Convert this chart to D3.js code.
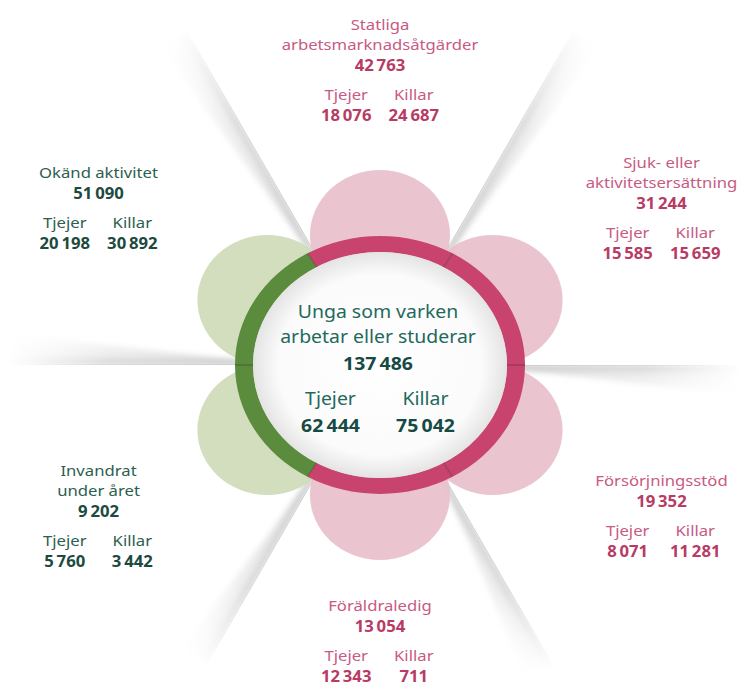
<!DOCTYPE html>
<meta charset="utf-8">
<script src="https://d3js.org/d3.v7.min.js"></script>
<style>
  body { margin: 0; background: #fff; }
  text { font-family: "Noto Sans", "Open Sans", sans-serif; }
</style>
<body>
<div id="chart"></div>
<script>

// categories, clockwise from the top petal
var categories = [
    ["Statliga", "arbetsmarknadsåtgärder"],
    ["Sjuk- eller", "aktivitetsersättning"],
    ["Försörjningsstöd"],
    ["Föräldraledig"],
    ["Invandrat", "under året"],
    ["Okänd aktivitet"]
];
var totals = [42763, 31244, 19352, 13054, 9202, 51090];
var tjejer = [18076, 15585, 8071, 12343, 5760, 20198];
var killar = [24687, 15659, 11281, 711, 3442, 30892];
var groups = ["pink", "pink", "pink", "pink", "green", "green"];

var centerTitle = ["Unga som varken", "arbetar eller studerar"];
var centerTotal = [137486];
var centerTjejer = [62444];
var centerKillar = [75042];
var genderLabels = ["Tjejer", "Killar"];

// which side of each fold gets the shadow (fold after category i)
var foldSide = [1, 1, 1, 1, 1, -1];

var W = 749, H = 690;
var cx = 380, cy = 365;

var palette = {
    pink: { petal: "#e8c0ca", ring: "#c8436d", title: "#c85a83", num: "#b83b65" },
    green: { petal: "#cfdbb8", ring: "#5b8b3d", title: "#2d5e4f", num: "#1d4a3e" }
};

var svg = d3.select("#chart").append("svg")
    .attr("width", W)
    .attr("height", H);
var defs = svg.append("defs");

var fmt = d3.formatLocale({ decimal: ",", thousands: "\u2009", grouping: [3], currency: ["", ""] }).format(",d");

var n = categories.length;
var angle = d3.scaleLinear().domain([0, n]).range([Math.PI / 2, Math.PI / 2 - 2 * Math.PI]);

// unit circle -> screen, for petals and labels
var petalX = d3.scaleLinear().domain([-1, 1]).range([cx - 130, cx + 130]);
var petalY = d3.scaleLinear().domain([-1, 1]).range([cy + 130, cy - 130]);
var labelX = d3.scaleLinear().domain([-1, 1]).range([cx - 325, cx + 325]);
// label block centres: bottom, lower sides, upper sides, top
var labelY = d3.scaleLinear().domain([-1, -0.5, 0.5, 1]).range([cy + 276, cy + 151, cy - 157, cy - 295]);

// ---- gradients for the paper folds
[1, -1].forEach(function (s) {
    var gr = defs.append("linearGradient")
        .attr("id", "fold" + (s > 0 ? "P" : "N"))
        .attr("x1", 0).attr("y1", s > 0 ? 0 : 1)
        .attr("x2", 0).attr("y2", s > 0 ? 1 : 0);
    gr.append("stop").attr("offset", 0).attr("stop-color", "#000").attr("stop-opacity", 0.24);
    gr.append("stop").attr("offset", 0.3).attr("stop-color", "#000").attr("stop-opacity", 0.10);
    gr.append("stop").attr("offset", 1).attr("stop-color", "#000").attr("stop-opacity", 0);
});
var fade = defs.append("linearGradient").attr("id", "fadeLen")
    .attr("x1", 0).attr("y1", 0).attr("x2", 1).attr("y2", 0);
fade.append("stop").attr("offset", 0).attr("stop-color", "#fff");
fade.append("stop").attr("offset", 0.6).attr("stop-color", "#fff").attr("stop-opacity", 0.75);
fade.append("stop").attr("offset", 1).attr("stop-color", "#fff").attr("stop-opacity", 0);
defs.append("mask").attr("id", "fadeMask")
    .attr("maskContentUnits", "objectBoundingBox")
    .append("rect").attr("width", 1).attr("height", 1).attr("fill", "url(#fadeLen)");
defs.append("filter").attr("id", "soft")
    .attr("x", "-10%").attr("y", "-60%").attr("width", "120%").attr("height", "220%")
    .append("feGaussianBlur").attr("stdDeviation", 2.4);

var centerGrad = defs.append("radialGradient").attr("id", "centerGrad");
centerGrad.append("stop").attr("offset", 0).attr("stop-color", "#ffffff");
centerGrad.append("stop").attr("offset", 0.8).attr("stop-color", "#fbfbfb");
centerGrad.append("stop").attr("offset", 1).attr("stop-color", "#e4e4e4");

// ---- paper folds between the sectors
var folds = svg.append("g");
d3.range(n).forEach(function (i) {
    var th = angle(i) - Math.PI / 6;
    var dx = Math.cos(th), dy = -Math.sin(th);
    var lx = Math.abs(dx) > 1e-6 ? (dx > 0 ? W - cx : cx) / Math.abs(dx) : 1e9;
    var ly = Math.abs(dy) > 1e-6 ? (dy > 0 ? H - cy : cy) / Math.abs(dy) : 1e9;
    var len = Math.min(lx - 8, ly - 25, 390);
    var s = foldSide[i];
    var g = folds.append("g")
        .attr("transform", "translate(" + cx + "," + cy + ") rotate(" + (-th * 180 / Math.PI) + ")");
    var r0 = 120;
    var band = g.append("g").attr("mask", "url(#fadeMask)");
    band.append("path")
        .attr("d", "M" + r0 + ",0 L" + len + ",0 L" + len + "," + (s * 32) + " L" + (r0 + 80) + "," + (s * 12) + " L" + r0 + "," + (s * 4) + "Z")
        .attr("fill", "url(#fold" + (s > 0 ? "P" : "N") + ")")
        .attr("filter", "url(#soft)");
    band.append("line")
        .attr("x1", r0).attr("x2", len)
        .attr("y1", 0).attr("y2", 0)
        .attr("stroke", "#8a8a8a")
        .attr("stroke-opacity", 0.45)
        .attr("stroke-width", 1);
});

// ---- petals
svg.append("g").selectAll("ellipse")
    .data(d3.range(n))
    .join("ellipse")
    .attr("cx", function (i) { return petalX(Math.cos(angle(i))); })
    .attr("cy", function (i) { return petalY(Math.sin(angle(i))); })
    .attr("rx", 70)
    .attr("ry", 65)
    .attr("fill", function (i) { return palette[groups[i]].petal; })
    .attr("fill-opacity", 0.93);

// ---- ring, one segment per category
var rOut = 129, rIn = 113, sx = 145 / 129;
var ring = svg.append("g")
    .attr("transform", "translate(" + cx + "," + cy + ") scale(" + sx + ",1)");
var arc = d3.arc().innerRadius(rIn).outerRadius(rOut);
ring.selectAll("path")
    .data(d3.range(n))
    .join("path")
    .attr("d", function (i) {
        var a = Math.PI / 2 - angle(i);
        return arc({ startAngle: a - Math.PI / 6, endAngle: a + Math.PI / 6 });
    })
    .attr("fill", function (i) { return palette[groups[i]].ring; });
// seams
ring.selectAll("line")
    .data(d3.range(n))
    .join("line")
    .attr("x1", function (i) { return rIn * Math.cos(angle(i) - Math.PI / 6); })
    .attr("y1", function (i) { return -rIn * Math.sin(angle(i) - Math.PI / 6); })
    .attr("x2", function (i) { return rOut * Math.cos(angle(i) - Math.PI / 6); })
    .attr("y2", function (i) { return -rOut * Math.sin(angle(i) - Math.PI / 6); })
    .attr("stroke", "#000")
    .attr("stroke-opacity", 0.2)
    .attr("stroke-width", 1.4);
ring.append("circle")
    .attr("r", rIn)
    .attr("fill", "url(#centerGrad)");

// ---- text blocks
function block(x, y, lines, total, tj, ki, st, opt) {
    var g = svg.append("g")
        .attr("transform", "translate(" + x + "," + y + ") scale(" + opt.stretch + ",1)");
    var ys = lines.map(function (d, k) { return k * opt.lh; });
    var yTot = ys[ys.length - 1] + opt.lh2;
    var yTj = yTot + opt.gap;
    var yNum = yTj + opt.lh3;
    var off = opt.anchorTop ? 0 : -((yNum - opt.cap) / 2);
    var t = g.append("g").attr("transform", "translate(0," + off + ")")
        .attr("text-anchor", "middle")
        .style("font-size", opt.size + "px");
    t.selectAll(".title").data(lines).join("text")
        .attr("class", "title")
        .attr("y", function (d, k) { return ys[k]; })
        .attr("fill", st.title)
        .text(function (d) { return d; });
    t.append("text").attr("y", yTot)
        .attr("fill", st.num).attr("font-weight", 700)
        .text(fmt(total));
    var cols = [-opt.col, opt.col];
    t.selectAll(".gen").data(genderLabels).join("text")
        .attr("class", "gen")
        .attr("x", function (d, k) { return cols[k]; })
        .attr("y", yTj)
        .attr("fill", st.title)
        .text(function (d) { return d; });
    t.selectAll(".val").data([tj, ki]).join("text")
        .attr("class", "val")
        .attr("x", function (d, k) { return cols[k]; })
        .attr("y", yNum)
        .attr("fill", st.num).attr("font-weight", 700)
        .text(function (d) { return fmt(d); });
}

d3.range(n).forEach(function (i) {
    var a = angle(i);
    block(labelX(Math.cos(a)), labelY(Math.sin(a)), categories[i], totals[i], tjejer[i], killar[i],
        palette[groups[i]],
        { size: 15.3, lh: 20, lh2: 21, gap: 29, lh3: 20.5, col: 31, stretch: 1.09, cap: 11 });
});

block(cx - 2, cy - 47, centerTitle, centerTotal[0], centerTjejer[0], centerKillar[0],
    { title: "#22695c", num: "#164a43" },
    { size: 18, lh: 25, lh2: 27, gap: 35, lh3: 27, col: 44, stretch: 1.08, anchorTop: true });

</script>
</body>
